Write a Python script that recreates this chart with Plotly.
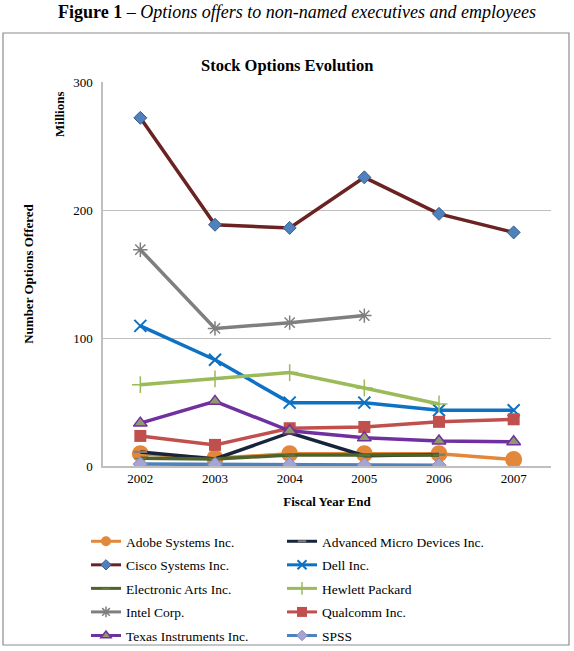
import plotly.graph_objects as go

years = ["2002", "2003", "2004", "2005", "2006", "2007"]

adobe = [9.5, 6, 9.5, 9.5, 9.5, 5]
amd = [11, 5.5, 26, 8, 9, None]
cisco = [272, 188.5, 186, 225.5, 197, 182.5]
dell = [109.5, 83, 49.5, 49.5, 43.5, 43.5]
ea = [6, 5.5, 8.5, 8.5, 8.5, None]
hp = [63.5, 68, 73, 61, 48.5, None]
intel = [169, 107.5, 112, 117.5, None, None]
qualcomm = [23.5, 16.5, 29.5, 30.5, 34.5, 36.5]
texas = [33.5, 50.5, 27.5, 22, 19.5, 19]
spss = [1.5, 1.2, 1.0, 0.8, 0.6, None]

# name, values, line colour, marker, legend marker size, legend column
series = [
    ("Adobe Systems Inc.", adobe, "#E3873A", dict(symbol="circle", size=17, color="#E3873A", line=dict(width=0)), 10, "legend"),
    ("Advanced Micro Devices Inc.", amd, "#17253A", dict(symbol="line-ew", size=10, color="#7F7F7F", line=dict(width=2, color="#7F7F7F")), 6, "legend2"),
    ("Cisco Systems Inc.", cisco, "#6B2222", dict(symbol="diamond", size=10, color="#4F81BD", line=dict(width=1, color="#3A5F8A")), 8, "legend"),
    ("Dell Inc.", dell, "#0E72C4", dict(symbol="x-thin-open", size=12, color="#0E72C4", line=dict(width=2, color="#0E72C4")), 9, "legend2"),
    ("Electronic Arts Inc.", ea, "#4F6228", dict(symbol="line-ew", size=8, color="#6D7F45", line=dict(width=1, color="#6D7F45")), 6, "legend"),
    ("Hewlett Packard", hp, "#9BBB59", dict(symbol="cross-thin-open", size=12, color="#9BBB59", line=dict(width=1.5, color="#9BBB59")), 9, "legend2"),
    ("Intel Corp.", intel, "#7F7F7F", dict(symbol="asterisk-open", size=12, color="#7F7F7F", line=dict(width=1.5, color="#7F7F7F")), 9, "legend"),
    ("Qualcomm Inc.", qualcomm, "#C0504D", dict(symbol="square", size=12, color="#C0504D", line=dict(width=0)), 10, "legend2"),
    ("Texas Instruments Inc.", texas, "#7030A0", dict(symbol="triangle-up", size=12, color="#8E9A6A", line=dict(width=1.5, color="#7030A0")), 9, "legend"),
    ("SPSS", spss, "#4F81BD", dict(symbol="diamond", size=11, color="#A5A5D5", line=dict(width=1, color="#8C8CC0")), 8, "legend2"),
]

fig = go.Figure()
for name, vals, col, mk, lsize, leg in series:
    fig.add_trace(go.Scatter(
        x=years, y=vals, name=name, mode="lines+markers",
        line=dict(color=col, width=3.5), marker=mk, connectgaps=False,
        showlegend=False, legendgroup=name,
    ))
for name, vals, col, mk, lsize, leg in series:
    lm = dict(mk)
    lm["size"] = lsize
    fig.add_trace(go.Scatter(
        x=[None], y=[None], name=name, mode="lines+markers",
        line=dict(color=col, width=3), marker=lm,
        showlegend=True, legend=leg, legendgroup=name,
    ))

# plot area pixels: x 103..551, y 82..466
L, R, T, B = 103, 551, 82, 466
W, H = R - L, B - T

def px(x):
    return (x - L) / W

def py(y):
    return (B - y) / H

serif = "Liberation Serif"
black = "#000000"

legend_common = dict(
    orientation="v", yanchor="top", xanchor="left",
    font=dict(family=serif, size=13.5, color=black),
    itemwidth=30, bgcolor="rgba(0,0,0,0)", tracegroupgap=3,
)

fig.update_layout(
    width=574, height=651,
    margin=dict(l=L, r=574 - R, t=T, b=651 - B, autoexpand=False),
    paper_bgcolor="white", plot_bgcolor="white",
    font=dict(family=serif, size=13, color=black),
    showlegend=True,
    legend=dict(legend_common, x=px(86), y=py(526)),
    legend2=dict(legend_common, x=px(282), y=py(526)),
    xaxis=dict(
        type="category", showgrid=False, showline=True, linecolor="#BFBFBF", linewidth=1.5,
        ticks="", tickfont=dict(family=serif, size=13, color=black),
        title=dict(text="<b>Fiscal Year End</b>", font=dict(family=serif, size=13, color=black), standoff=12),
        range=[-0.5, 5.5], zeroline=False,
    ),
    yaxis=dict(
        range=[0, 300], tickvals=[0, 100, 200, 300], showgrid=True, gridcolor="#BFBFBF", gridwidth=1,
        showline=True, linecolor="#BFBFBF", linewidth=1.5, ticks="", zeroline=False,
        ticklabelstandoff=6,
        tickfont=dict(family=serif, size=13, color=black),
        title=dict(text="<b>Number Options Offered</b>", font=dict(family=serif, size=13, color=black), standoff=37),
    ),
    shapes=[
        dict(type="rect", xref="paper", yref="paper", x0=px(3), x1=px(569), y0=py(645), y1=py(33),
             line=dict(color="#8C8C8C", width=1.2), fillcolor="rgba(0,0,0,0)", layer="below"),
    ],
    annotations=[
        dict(text="<b>Figure 1</b> – <i>Options offers to non-named executives and employees</i>",
             xref="paper", yref="paper", x=px(297), y=py(12), xanchor="center", yanchor="middle",
             showarrow=False, font=dict(family=serif, size=18, color=black)),
        dict(text="<b>Stock Options Evolution</b>", xref="paper", yref="paper", x=px(287), y=py(65),
             xanchor="center", yanchor="middle", showarrow=False,
             font=dict(family=serif, size=16.5, color=black)),
        dict(text="<b>Millions</b>", xref="paper", yref="paper", x=px(59), y=py(114),
             xanchor="center", yanchor="middle", textangle=-90, showarrow=False,
             font=dict(family=serif, size=13, color=black)),
    ],
)

fig.write_html("out.html")
